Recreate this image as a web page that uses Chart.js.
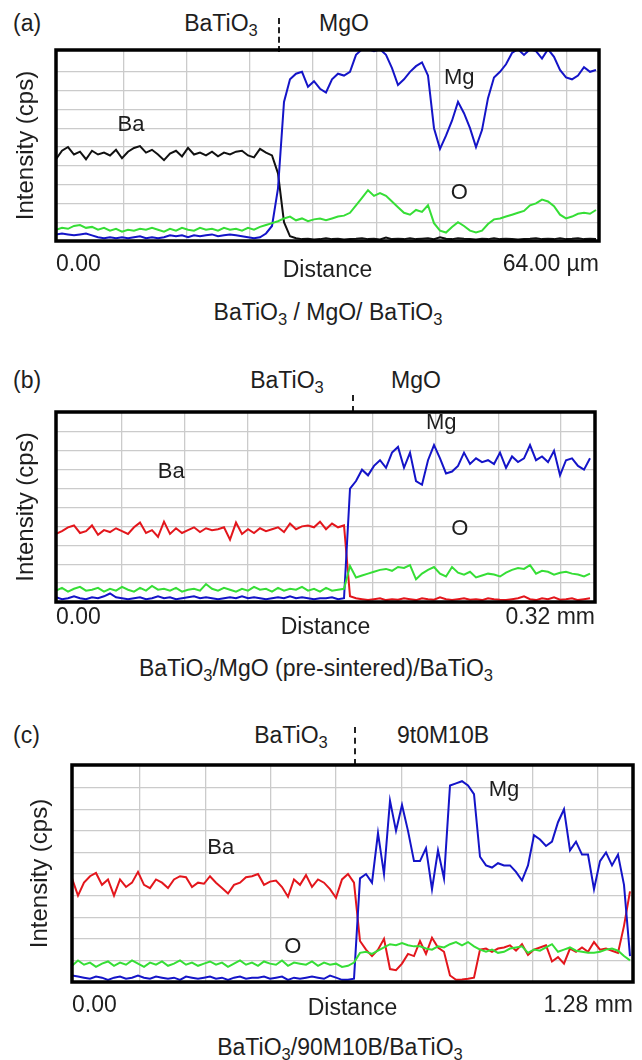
<!DOCTYPE html>
<html>
<head>
<meta charset="utf-8">
<script src="https://cdn.jsdelivr.net/npm/chart.js@4.4.1/dist/chart.umd.min.js"></script>
<style>
  html, body { margin: 0; padding: 0; background: #fff; }
  body { width: 642px; height: 1060px; position: relative; overflow: hidden;
         font-family: "Liberation Sans", Arial, sans-serif; color: #1e1e1e; }
  .t { position: absolute; font-size: 23px; line-height: 26px; white-space: nowrap;
       transform: translate(-50%, -50%); }
  .t.l { transform: translate(0, -50%); }
  sub { font-size: 0.72em; vertical-align: -0.32em; line-height: 0; }
  .cut { position: absolute; width: 0; border-left: 2px dashed #222; }
  .panel { position: absolute; left: 0; width: 642px; }
</style>
</head>
<body>

<!-- (a) -->
<div class="t l" style="left:13px;top:23px">(a)</div>
<div class="t" style="left:221px;top:23px">BaTiO<sub>3</sub></div>
<div class="cut" style="left:278px;top:18px;height:34px"></div>
<div class="t" style="left:344px;top:23px">MgO</div>
<div class="panel" style="top:40px;height:250px"><canvas id="chartA"></canvas></div>
<div class="t" style="left:328px;top:312px">BaTiO<sub>3</sub> / MgO/ BaTiO<sub>3</sub></div>

<!-- (b) -->
<div class="t l" style="left:13px;top:380px">(b)</div>
<div class="t" style="left:287px;top:380px">BaTiO<sub>3</sub></div>
<div class="cut" style="left:352px;top:395px;height:17px"></div>
<div class="t" style="left:416px;top:380px">MgO</div>
<div class="panel" style="top:400px;height:250px"><canvas id="chartB"></canvas></div>
<div class="t" style="left:316px;top:668px">BaTiO<sub>3</sub>/MgO (pre-sintered)/BaTiO<sub>3</sub></div>

<!-- (c) -->
<div class="t l" style="left:13px;top:735px">(c)</div>
<div class="t" style="left:291px;top:735px">BaTiO<sub>3</sub></div>
<div class="cut" style="left:354px;top:727px;height:38px"></div>
<div class="t" style="left:443px;top:735px">9t0M10B</div>
<div class="panel" style="top:755px;height:275px"><canvas id="chartC"></canvas></div>
<div class="t" style="left:340px;top:1047px">BaTiO<sub>3</sub>/90M10B/BaTiO<sub>3</sub></div>

<script>
/* EPMA line scans across BaTiO3 / MgO interfaces,
   one sample every ~6 px along the scan, intensity in grid divisions */

// ── (a) BaTiO3 / MgO / BaTiO3, 0–64 µm ──────────────────
const BA_A = [
  4.35, 4.8, 5.0, 4.6, 4.75, 4.35, 4.8, 4.6, 4.7, 4.55,
  4.85, 4.4, 4.75, 4.95, 5.05, 4.7, 4.85, 4.6, 4.3, 4.65,
  4.8, 4.5, 4.95, 4.6, 4.7, 4.55, 4.75, 4.5, 4.7, 4.6,
  4.75, 4.8, 4.55, 4.45, 4.9, 4.7, 4.55, 3.6, 1.0, 0.25,
  0.15, 0.1, 0.12, 0.08, 0.1, 0.15, 0.1, 0.12, 0.08, 0.1,
  0.12, 0.15, 0.1, 0.12, 0.08, 0.18, 0.1, 0.12, 0.1, 0.15,
  0.1, 0.12, 0.14, 0.1, 0.2, 0.12, 0.1, 0.15, 0.12, 0.1,
  0.08, 0.12, 0.1, 0.15, 0.1, 0.12, 0.1, 0.08, 0.1, 0.12,
  0.15, 0.1, 0.12, 0.1, 0.14, 0.1, 0.12, 0.15, 0.1, 0.12,
  0.1];
const MG_A = [
  0.35, 0.4, 0.35, 0.3, 0.35, 0.4, 0.3, 0.2, 0.15, 0.2,
  0.15, 0.2, 0.15, 0.2, 0.25, 0.15, 0.2, 0.15, 0.2, 0.3,
  0.25, 0.3, 0.2, 0.3, 0.25, 0.3, 0.35, 0.25, 0.3, 0.35,
  0.3, 0.25, 0.2, 0.15, 0.2, 0.4, 0.8, 2.8, 7.4, 8.6,
  8.9, 9.0, 8.2, 8.5, 8.1, 7.9, 8.6, 8.9, 8.8, 9.0,
  9.9, 10.2, 10.2, 10.1, 10.2, 9.9, 9.2, 8.3, 8.6, 9.0,
  9.3, 9.5, 8.8, 6.0, 4.9, 5.6, 6.4, 7.4, 6.8, 6.0,
  5.0, 5.9, 7.6, 8.7, 9.0, 9.4, 10.0, 10.2, 9.9, 10.2,
  10.1, 9.7, 10.2, 9.8, 9.1, 8.7, 8.6, 8.8, 9.25, 9.0,
  9.1];
const O_A = [
  0.6, 0.7, 0.65, 0.8, 0.85, 0.7, 0.75, 0.6, 0.7, 0.55,
  0.65, 0.5, 0.6, 0.55, 0.65, 0.6, 0.7, 0.6, 0.5, 0.65,
  0.55, 0.7, 0.6, 0.55, 0.7, 0.6, 0.65, 0.55, 0.7, 0.6,
  0.65, 0.55, 0.7, 0.6, 0.75, 0.85, 0.95, 1.05, 1.2, 1.3,
  1.1, 1.2, 1.05, 1.15, 1.2, 1.1, 1.2, 1.3, 1.35, 1.5,
  1.9, 2.3, 2.7, 2.4, 2.55, 2.4, 2.1, 1.8, 1.5, 1.4,
  1.65, 1.55, 1.9, 0.95, 0.55, 0.45, 0.75, 1.0, 0.8, 0.55,
  0.45, 0.55, 0.9, 1.15, 1.2, 1.3, 1.4, 1.5, 1.6, 1.9,
  2.0, 2.2, 2.1, 1.85, 1.4, 1.2, 1.3, 1.45, 1.5, 1.45,
  1.65];
const ENDS_A = ['0.00', '64.00 \u00b5m'];

// ── (b) BaTiO3 / MgO (pre-sintered) / BaTiO3, 0–0.32 mm ─
const BA_B = [
  3.6, 3.75, 3.95, 4.05, 3.65, 3.75, 4.05, 3.55, 3.8, 3.7,
  3.9, 3.75, 3.6, 3.95, 4.2, 3.65, 3.8, 3.45, 4.25, 3.6,
  3.9, 3.65, 3.8, 3.95, 3.7, 3.9, 3.8, 3.85, 3.95, 3.3,
  4.2, 3.6, 3.85, 3.65, 3.9, 3.75, 3.85, 3.95, 3.7, 4.15,
  3.85, 4.0, 4.05, 3.95, 4.25, 3.85, 4.15, 3.95, 4.05, 0.3,
  0.2, 0.15, 0.1, 0.15, 0.2, 0.1, 0.15, 0.12, 0.2, 0.15,
  0.1, 0.2, 0.15, 0.12, 0.25, 0.15, 0.1, 0.15, 0.2, 0.12,
  0.15, 0.1, 0.2, 0.15, 0.12, 0.1, 0.15, 0.2, 0.3, 0.15,
  0.1, 0.2, 0.15, 0.25, 0.12, 0.15, 0.2, 0.1, 0.15, 0.2];
const MG_B = [
  0.25, 0.15, 0.2, 0.3, 0.2, 0.15, 0.25, 0.2, 0.3, 0.45,
  0.25, 0.2, 0.15, 0.2, 0.25, 0.15, 0.2, 0.3, 0.2, 0.25,
  0.15, 0.2, 0.25, 0.3, 0.2, 0.25, 0.2, 0.15, 0.2, 0.25,
  0.2, 0.3, 0.2, 0.25, 0.2, 0.15, 0.2, 0.25, 0.2, 0.3,
  0.2, 0.25, 0.2, 0.15, 0.2, 0.2, 0.25, 0.15, 0.2, 6.0,
  6.4, 7.0, 6.7, 7.2, 7.5, 7.1, 7.9, 8.2, 7.1, 7.9,
  6.4, 6.2, 7.5, 8.3, 7.6, 6.8, 6.9, 7.2, 7.9, 7.3,
  7.6, 7.4, 7.5, 7.3, 7.9, 7.1, 7.7, 7.4, 7.6, 8.3,
  7.5, 7.7, 7.4, 8.0, 6.7, 7.5, 7.6, 7.2, 7.0, 7.6];
const O_B = [
  0.6, 0.75, 0.55, 0.7, 0.8, 0.6, 0.65, 0.75, 0.55, 0.7,
  0.6, 0.8, 0.65, 0.55, 0.75, 0.6, 0.85, 0.65, 0.7, 0.6,
  0.75, 0.55, 0.65, 0.7, 0.6, 0.95, 0.7, 0.6, 0.75, 0.65,
  0.55, 0.7, 0.6, 0.8, 0.65, 0.7, 0.55, 0.75, 0.6, 0.7,
  0.65, 0.8, 0.6, 0.7, 0.55, 0.75, 0.6, 0.65, 0.7, 1.9,
  1.3, 1.4, 1.5, 1.6, 1.7, 1.75, 1.65, 1.85, 1.8, 1.95,
  1.2, 1.5, 1.7, 1.85, 1.5, 1.35, 1.85, 1.55, 1.45, 1.6,
  1.3, 1.4, 1.5, 1.45, 1.35, 1.55, 1.7, 1.8, 1.75, 1.95,
  1.5, 1.65, 1.6, 1.45, 1.55, 1.6, 1.5, 1.45, 1.35, 1.5];
const ENDS_B = ['0.00', '0.32 mm'];

// ── (c) BaTiO3 / 90M10B / BaTiO3, 0–1.28 mm ─────────────
const BA_C = [
  4.8, 4.0, 4.6, 4.9, 5.05, 4.5, 4.75, 4.0, 4.75, 4.4,
  4.6, 5.1, 4.5, 4.35, 4.75, 4.6, 4.35, 4.75, 4.9, 4.85,
  4.4, 4.6, 4.55, 4.9, 4.6, 4.35, 4.1, 4.5, 4.6, 4.85,
  4.9, 5.0, 4.5, 4.65, 4.7, 4.4, 3.95, 4.75, 4.5, 4.95,
  4.4, 4.75, 4.6, 4.3, 3.9, 4.75, 5.0, 4.6, 1.9, 1.5,
  1.2, 1.5, 2.0, 0.6, 0.55, 0.85, 1.3, 1.2, 1.9, 1.3,
  2.05, 1.6, 1.4, 0.3, 0.1, 0.12, 0.15, 0.2, 1.5, 1.55,
  1.4, 1.55, 1.6, 1.7, 1.45, 1.75, 1.25, 1.5, 1.6, 1.7,
  0.95, 1.15, 0.85, 1.55, 1.4, 1.6, 1.4, 1.85, 1.5, 1.55,
  1.45, 1.35, 2.6, 4.2];
const MG_C = [
  0.3, 0.25, 0.2, 0.15, 0.25, 0.2, 0.1, 0.2, 0.25, 0.15,
  0.2, 0.3, 0.2, 0.15, 0.25, 0.2, 0.15, 0.2, 0.1, 0.25,
  0.2, 0.15, 0.2, 0.25, 0.15, 0.2, 0.1, 0.2, 0.25, 0.15,
  0.2, 0.2, 0.25, 0.15, 0.2, 0.25, 0.1, 0.2, 0.15, 0.2,
  0.25, 0.2, 0.15, 0.3, 0.2, 0.1, 0.1, 0.15, 4.8, 5.0,
  4.6, 6.9, 5.0, 8.4, 7.0, 8.2, 7.0, 5.6, 5.6, 6.2,
  4.3, 6.1, 4.8, 9.1, 9.2, 9.3, 9.1, 8.7, 5.8, 5.4,
  5.3, 5.5, 5.4, 5.4, 5.1, 4.7, 5.4, 6.8, 6.6, 6.3,
  6.5, 7.4, 8.0, 6.1, 6.5, 5.9, 5.9, 4.3, 5.6, 6.0,
  5.4, 5.9, 4.5, 1.2];
const O_C = [
  0.75, 1.0, 0.8, 0.9, 0.7, 0.85, 0.95, 0.75, 0.9, 0.8,
  1.0, 0.85, 0.7, 0.9, 0.8, 0.95, 0.75, 0.85, 1.0, 0.8,
  0.9, 0.75, 0.85, 0.95, 0.8, 0.9, 0.7, 0.85, 1.0, 0.8,
  0.9, 0.75, 0.95, 0.85, 0.8, 1.0, 0.75, 0.9, 0.85, 0.8,
  0.95, 0.75, 0.9, 0.8, 0.85, 0.7, 0.75, 0.9, 1.35, 1.4,
  1.3, 1.45, 1.6, 1.75, 1.7, 1.8, 1.7, 1.65, 1.65, 1.55,
  1.5, 1.65, 1.6, 1.75, 1.85, 1.7, 1.85, 1.65, 1.5, 1.4,
  1.5, 1.35, 1.4, 1.55, 1.6, 1.65, 1.35, 1.5, 1.45, 1.6,
  1.75, 1.4, 1.5, 1.6, 1.45, 1.4, 1.35, 1.35, 1.4, 1.5,
  1.55, 1.45, 1.2, 1.0];
const ENDS_C = ['0.00', '1.28 mm'];

const Y_GRID = [1, 2, 3, 4, 5, 6, 7, 8, 9];

(function () {
  const BLUE = '#1414c8', RED = '#e3161c', GREEN = '#36de36', BLACK = '#111111';
  const GRID = '#cbcbcb', TXT = '#1e1e1e';
  const FONT = "'Liberation Sans', Arial, sans-serif";
  const f = (size) => ({ family: FONT, size, lineHeight: 1.2 });

  const pts = (arr) => arr.map((v, i) => ({ x: i, y: v }));

  // thick black frame round the plot area
  const frame = {
    id: 'frame',
    afterDatasetsDraw(chart) {
      const { ctx, chartArea: a } = chart;
      ctx.save();
      ctx.strokeStyle = '#000';
      ctx.lineWidth = 3.5;
      ctx.strokeRect(a.left, a.top, a.right - a.left, a.bottom - a.top);
      ctx.restore();
    },
  };

  // element names written inside the plot
  const tags = {
    id: 'tags',
    afterDatasetsDraw(chart, args, opts) {
      const { ctx, scales: { x, y } } = chart;
      ctx.save();
      ctx.fillStyle = TXT;
      ctx.font = '22px ' + FONT;
      ctx.textAlign = 'center';
      ctx.textBaseline = 'middle';
      (opts.items || []).forEach((t) => {
        ctx.fillText(t.text, x.getPixelForValue(t.x), y.getPixelForValue(t.y));
      });
      ctx.restore();
    },
  };

  function scan(id, p) {
    const line = (d, c) => ({ data: pts(d), borderColor: c, borderWidth: 2,
      pointRadius: 0, tension: 0, xAxisID: 'x', yAxisID: 'y' });
    new Chart(document.getElementById(id), {
      type: 'line',
      data: { datasets: [line(p.o, GREEN), line(p.mg, BLUE), line(p.ba, p.baColor)] },
      options: {
        animation: false, responsive: true, maintainAspectRatio: false,
        layout: { padding: { top: p.padTop, right: p.padRight, left: 0, bottom: 0 } },
        plugins: { legend: { display: false }, tooltip: { enabled: false }, tags: { items: p.tags } },
        scales: {
          x: {
            type: 'linear', min: 0, max: p.xMax,
            border: { display: false }, ticks: { display: false },
            grid: { color: GRID, lineWidth: 1.3, drawTicks: false },
            afterBuildTicks: (s) => {
              const t = [];
              for (let v = p.gridStart; v < p.xMax - 1; v += p.gridStep) t.push({ value: v });
              s.ticks = t;
            },
            afterFit: (s) => { s.height = 0; },
          },
          xl: {
            type: 'linear', axis: 'x', position: 'bottom', min: 0, max: 1,
            border: { display: false }, grid: { display: false },
            afterBuildTicks: (s) => { s.ticks = [{ value: 0 }, { value: 1 }]; },
            ticks: { align: 'inner', maxRotation: 0, autoSkip: false, padding: p.tickPad,
              color: TXT, font: f(23), callback: (v, i) => p.ends[i] },
            title: { display: true, text: 'Distance', color: TXT, font: f(23),
              padding: { top: 0, bottom: p.titlePad } },
            afterFit: (s) => { s.height = p.axisH; },
          },
          y: {
            min: 0, max: p.yMax,
            border: { display: false }, ticks: { display: false },
            grid: { color: GRID, lineWidth: 1.3, drawTicks: false },
            afterBuildTicks: (s) => { s.ticks = Y_GRID.map((v) => ({ value: v })); },
            title: { display: true, text: 'Intensity (cps)', color: TXT, font: f(24),
              padding: { top: p.yTitlePad, bottom: 0 } },
            afterFit: (s) => { s.width = p.left; },
          },
        },
      },
      plugins: [frame, tags],
    });
  }

  scan('chartA', {
    ba: BA_A, mg: MG_A, o: O_A, baColor: BLACK, ends: ENDS_A,
    xMax: 90.5, yMax: 10.16, gridStart: 11.2, gridStep: 10.55,
    left: 56, padTop: 10, padRight: 43, axisH: 49, tickPad: 2, titlePad: 6, yTitlePad: 12,
    tags: [{ text: 'Ba', x: 12.5, y: 6.2 }, { text: 'Mg', x: 67.2, y: 8.67 }, { text: 'O', x: 67.2, y: 2.55 }],
  });
  scan('chartB', {
    ba: BA_B, mg: MG_B, o: O_B, baColor: RED, ends: ENDS_B,
    xMax: 89.83, yMax: 10.05, gridStart: 11.0, gridStep: 10.45,
    left: 56, padTop: 12, padRight: 47, axisH: 48, tickPad: -6, titlePad: 9, yTitlePad: 12,
    tags: [{ text: 'Ba', x: 19.2, y: 6.88 }, { text: 'Mg', x: 64.2, y: 9.47 }, { text: 'O', x: 67.3, y: 3.86 }],
  });
  scan('chartC', {
    ba: BA_C, mg: MG_C, o: O_C, baColor: RED, ends: ENDS_C,
    xMax: 93.5, yMax: 10.05, gridStart: 11.3, gridStep: 10.9,
    left: 72, padTop: 10, padRight: 9, axisH: 48, tickPad: 2, titlePad: 8, yTitlePad: 26,
    tags: [{ text: 'Ba', x: 24.8, y: 6.2 }, { text: 'Mg', x: 72, y: 8.89 }, { text: 'O', x: 36.8, y: 1.62 }],
  });
})();
</script>
</body>
</html>
